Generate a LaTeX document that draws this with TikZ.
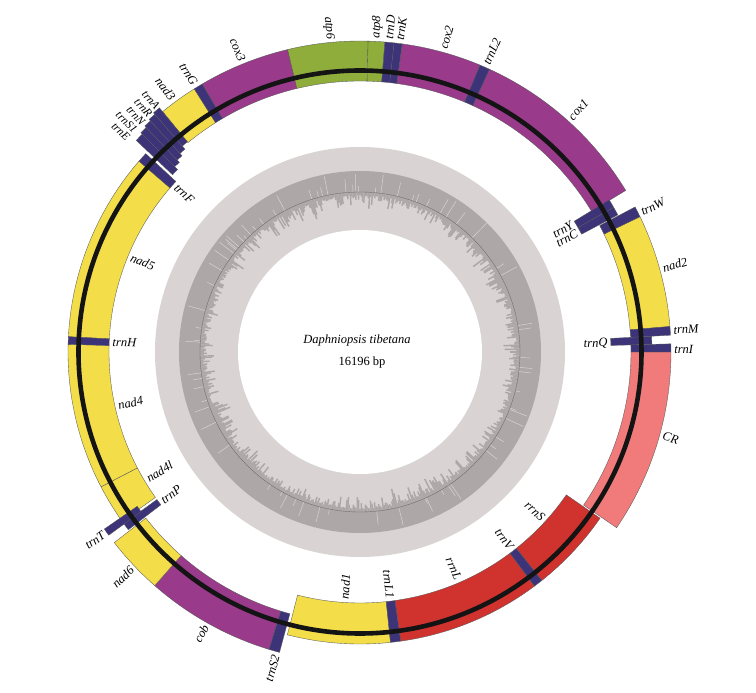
\documentclass[tikz,border=0pt]{standalone}
\usepackage{fontspec}
\setmainfont{Liberation Serif}
\definecolor{cpur}{HTML}{993A8B}
\definecolor{cgrn}{HTML}{8FAD3B}
\definecolor{cyel}{HTML}{F3DD48}
\definecolor{ctrn}{HTML}{3D3378}
\definecolor{ccr}{HTML}{F07B7A}
\definecolor{crrn}{HTML}{D0322E}
\definecolor{glight}{HTML}{D9D3D3}
\definecolor{gdark}{HTML}{ADA7A7}
% gene sector: theta1, theta2 (clockwise from top), r1, r2, colour
\newcommand{\gsec}[5]{\filldraw[gline, fill=#5] ({90-#1}:#3pt) arc[start angle={90-#1}, end angle={90-#2}, radius=#3pt] -- ({90-#2}:#4pt) arc[start angle={90-#2}, end angle={90-#1}, radius=#4pt] -- cycle;}
\newcommand{\labRO}[3]{\node[lab, rotate={90-#2}, anchor=west] (#1) at ({90-#2}:313pt) {#3};}
\newcommand{\labLO}[3]{\node[lab, rotate={270-#2}, anchor=east] (#1) at ({90-#2}:313pt) {#3};}
\newcommand{\labRI}[3]{\node[lab, rotate={90-#2}, anchor=east] (#1) at ({90-#2}:249pt) {#3};}
\newcommand{\labLI}[3]{\node[lab, rotate={270-#2}, anchor=west] (#1) at ({90-#2}:249pt) {#3};}
\begin{document}
\begin{tikzpicture}[
  lab/.style={font=\fontsize{12.5}{14}\selectfont\itshape, inner sep=1.2pt},
  clab/.style={font=\fontsize{11.5}{13}\selectfont\itshape, inner sep=1pt},
  gline/.style={draw=black!65, line width=0.35pt}]
\useasboundingbox (-360pt,-341pt) rectangle (396pt,352pt);
% ---- inner rings ----
\fill[glight] (0,0) circle[radius=205pt];
\fill[white] (0,0) circle[radius=122pt];
\fill[gdark, even odd rule] (0,0) circle[radius=181pt] (0,0) circle[radius=160pt];
\pgfmathsetseed{12345}
\foreach \i in {0,...,719}{
  \pgfmathsetmacro\a{\i*0.5}
  \pgfmathsetmacro\rr{160-(3+rnd*rnd*(10+10*abs(sin(2*\a+40))))}
  \pgfmathsetmacro\ro{160+(rnd<0.1)*(4+rnd*17)}
  \draw[gdark, line width=1.45pt] (\a:160pt) -- (\a:\rr pt);
  \draw[glight, line width=0.5pt] (\a:160pt) -- (\a:\ro pt);
}
\draw[black!60, line width=0.35pt] (0,0) circle[radius=160pt];
% ---- genes ----
\gsec{-13.5}{1.5}{271}{311}{cgrn}   % atp6
\gsec{1.5}{4.6}{271}{311}{cgrn}     % atp8
\gsec{7.8}{22.7}{271}{311}{cpur}    % cox2
\gsec{24.6}{58.7}{271}{311}{cpur}   % cox1
\gsec{64.2}{85.3}{271}{311}{cyel}   % nad2
\gsec{90}{124.4}{271}{311}{ccr}     % CR
\gsec{124.7}{141.5}{251}{292}{crrn} % rrnS
\gsec{143.3}{172}{251}{292}{crrn}   % rrnL
\gsec{174}{194.4}{251}{292}{cyel}   % nad1
\gsec{197}{221.3}{271}{311}{cpur}   % cob
\gsec{221.3}{232.2}{271}{311}{cyel} % nad6
\gsec{234.6}{242.5}{251}{292}{cyel} % nad4l
\gsec{242.5}{271.5}{251}{292}{cyel} % nad4
\gsec{273}{311}{251}{292}{cyel}     % nad5
\gsec{320.6}{327.8}{271}{311}{cyel} % nad3
\gsec{329.5}{346.5}{271}{311}{cpur} % cox3
% ---- tRNAs ----
\gsec{4.6}{6.3}{271}{311}{ctrn}     % trnD
\gsec{6.3}{7.8}{271}{311}{ctrn}     % trnK
\gsec{22.7}{24.6}{271}{311}{ctrn}   % trnL2
\gsec{58.6}{60.3}{251}{292}{ctrn}   % trnY
\gsec{60.3}{62}{251}{292}{ctrn}     % trnC
\gsec{62.2}{64.2}{271}{311}{ctrn}   % trnW
\gsec{85.3}{86.9}{271}{311}{ctrn}   % trnM
\gsec{86.9}{88.5}{251}{292}{ctrn}   % trnQ
\gsec{88.5}{90}{271}{311}{ctrn}     % trnI
\gsec{141.5}{143.3}{251}{292}{ctrn} % trnV
\gsec{172}{174}{251}{292}{ctrn}     % trnL1
\gsec{195}{197}{271}{311}{ctrn}     % trnS2
\gsec{232.5}{234}{251}{292}{ctrn}   % trnP
\gsec{233.9}{235.3}{271}{311}{ctrn} % trnT
\gsec{271.5}{273}{251}{292}{ctrn}   % trnH
\gsec{310.8}{312.8}{251}{292}{ctrn} % trnF
\gsec{313.4}{315}{258}{308}{ctrn}   % trnE
\gsec{315}{316.4}{262}{310}{ctrn}   % trnS1
\gsec{316.4}{317.8}{265}{312}{ctrn} % trnN
\gsec{317.8}{319.2}{268}{314}{ctrn} % trnR
\gsec{319.2}{320.6}{272}{316}{ctrn} % trnA
\gsec{327.8}{329.5}{271}{311}{ctrn} % trnG
% ---- backbone ----
\draw[black!92, line width=4.6pt] (0,0) circle[radius=281.5pt];
% ---- labels ----
\labRO{latp8}{3}{atp8}
\labRO{ltrnD}{5.3}{trnD}
\labRO{ltrnK}{7.3}{trnK}
\labRO{lcox2}{15.4}{cox2}
\labRO{ltrnL2}{23.7}{trnL2}
\labRO{lcox1}{42}{cox1}
\labRO{ltrnW}{63.6}{trnW}
\labRO{lnad2}{74.5}{nad2}
\labRO{ltrnM}{86}{trnM}
\labRO{ltrnI}{89.6}{trnI}
\labRO{lCR}{105.5}{CR}
\labRI{ltrnY}{58.9}{trnY}
\labRI{ltrnC}{61.2}{trnC}
\labRI{ltrnQ}{88}{trnQ}
\labRI{lrrnS}{132.3}{rrnS}
\labRI{ltrnV}{142.4}{trnV}
\labRI{lrrnL}{156.6}{rrnL}
\labRI{ltrnL1}{173}{trnL1}
\labLO{ltrnS2}{195.5}{trnS2}
\labLO{lcob}{209.4}{cob}
\labLO{lnad6}{226.5}{nad6}
\labLO{ltrnT}{234.6}{trnT}
\node[clab, rotate={270-312.7}, anchor=east] (ltrnE) at ({90-312.7}:314pt) {trnE};
\node[clab, rotate={270-314.6}, anchor=east] (ltrnS1) at ({90-314.6}:314pt) {trnS1};
\node[clab, rotate={270-316.5}, anchor=east] (ltrnN) at ({90-316.5}:314pt) {trnN};
\node[clab, rotate={270-318.4}, anchor=east] (ltrnR) at ({90-318.4}:315pt) {trnR};
\node[clab, rotate={270-320.3}, anchor=east] (ltrnA) at ({90-320.3}:316pt) {trnA};
\labLO{lnad3}{323.5}{nad3}
\labLO{ltrnG}{328.3}{trnG}
\labLO{lcox3}{338}{cox3}
\labLO{latp6}{354.5}{atp6}
\labLI{lnad1}{183.6}{nad1}
\labLI{ltrnP}{233}{trnP}
\labLI{lnad4l}{239.2}{nad4l}
\labLI{lnad4}{257.5}{nad4}
\labLI{ltrnH}{272.3}{trnH}
\labLI{lnad5}{292.5}{nad5}
\labLI{ltrnF}{312}{trnF}
% ---- centre ----
\node[font=\fontsize{12.5}{14}\selectfont\itshape] (title) at (-3pt,12pt) {Daphniopsis tibetana};
\node[font=\fontsize{12.5}{14}\selectfont] (size) at (2pt,-10pt) {16196 bp};
\end{tikzpicture}
\end{document}
